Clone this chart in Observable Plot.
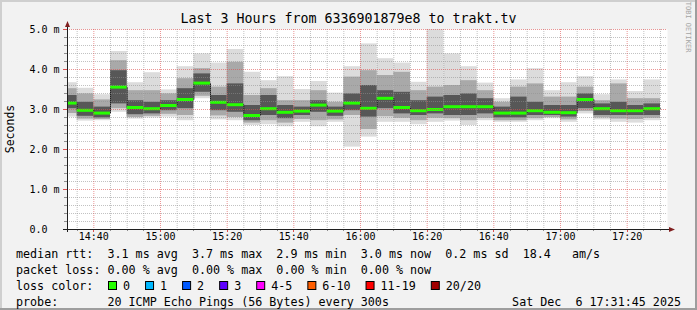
<!DOCTYPE html>
<html><head><meta charset="utf-8">
<script src="https://cdn.jsdelivr.net/npm/d3@7"></script>
<script src="https://cdn.jsdelivr.net/npm/@observablehq/plot@0.6"></script>
<style>
html,body{margin:0;padding:0;background:#f2f2f2;}
svg text{font-family:"DejaVu Sans Mono",monospace;}
</style></head><body><div id="chart"></div>
<script>
// ---- data ----
const titleText = "Last 3 Hours from 6336901879e8 to trakt.tv";
const yLabelText = "Seconds";
const firstBarStart = "2025-12-06T14:30:00Z";
const stepMinutes = 5;
const viewStart = "2025-12-06T14:32:06Z";
const viewEnd = "2025-12-06T17:32:06Z";

const smokeMax = [3.67,3.53,3.37,4.45,3.67,3.92,3.49,4.07,4.39,4.16,4.50,3.93,3.72,3.82,3.50,3.70,3.41,4.07,4.64,4.27,4.16,3.68,5.06,4.39,4.07,3.66,3.27,3.74,4.02,3.47,3.67,3.82,3.37,3.74,3.45,3.74];
const smokeHiMid = [3.52,3.39,3.24,4.22,3.47,3.47,3.39,3.77,4.02,3.56,4.18,3.35,3.52,3.22,3.22,3.47,3.18,3.81,3.97,3.85,3.93,3.47,3.56,3.60,3.72,3.47,3.18,3.56,3.64,3.31,3.31,3.56,3.22,3.64,3.27,3.27];
const smokeHiDark = [3.35,3.18,3.06,3.97,3.22,3.18,3.22,3.52,3.89,3.35,3.64,3.10,3.35,3.10,3.06,3.22,3.06,3.39,3.60,3.47,3.43,3.22,3.31,3.35,3.39,3.27,3.06,3.31,3.18,3.10,3.10,3.39,3.14,3.18,3.10,3.14];
const medianRtt = [3.16,2.98,2.91,3.56,3.05,3.02,3.10,3.25,3.66,3.18,3.12,2.85,3.02,2.93,2.96,3.11,2.96,3.16,3.03,3.28,3.05,2.97,3.00,3.07,3.07,3.07,2.91,2.91,2.97,2.93,2.92,3.25,3.02,2.97,2.97,3.02];
const smokeLoDark = [3.02,2.83,2.79,3.14,2.87,2.89,2.97,3.02,3.43,2.97,2.93,2.72,2.85,2.77,2.85,2.93,2.83,2.97,2.81,3.02,2.89,2.85,2.89,2.85,2.85,2.89,2.79,2.79,2.85,2.85,2.81,3.02,2.85,2.85,2.85,2.85];
const smokeLoMid = [2.90,2.76,2.75,3.02,2.80,2.83,2.88,2.85,3.33,2.84,2.80,2.66,2.72,2.66,2.75,2.72,2.74,2.85,2.50,2.82,2.78,2.72,2.78,2.77,2.72,2.78,2.72,2.72,2.77,2.80,2.74,2.95,2.79,2.76,2.75,2.78];
const smokeMin = [2.81,2.71,2.72,2.93,2.76,2.79,2.81,2.72,3.27,2.74,2.72,2.60,2.62,2.57,2.68,2.57,2.68,2.06,2.31,2.68,2.68,2.62,2.68,2.71,2.60,2.72,2.68,2.68,2.72,2.77,2.68,2.89,2.74,2.68,2.66,2.72];

const yTickValues = [0,1,2,3,4,5];
const yTickLabels = ["0.0","1.0 m","2.0 m","3.0 m","4.0 m","5.0 m"];
const medianLine = "median rtt:  3.1 ms avg  3.7 ms max  2.9 ms min  3.0 ms now  0.2 ms sd  18.4   am/s";
const lossLine = "packet loss: 0.00 % avg  0.00 % max  0.00 % min  0.00 % now";
const lossTitle = "loss color:";
const lossLabels = ["0","1","2","3","4-5","6-10","11-19","20/20"];
const lossColors = ["#26ff00","#00b8ff","#0059ff","#5e00ff","#ff00ff","#ff5e00","#ff0000","#a10000"];
const probeLine = "probe:       20 ICMP Echo Pings (56 Bytes) every 300s";
const dateText = "Sat Dec  6 17:31:45 2025";
const creditText = "RRDTOOL / TOBI OETIKER";

// ---- build table ----
const t0 = new Date(firstBarStart).getTime();
const stepMs = stepMinutes * 60000;
const bars = medianRtt.map((m, i) => ({
  x1: new Date(t0 + i * stepMs), x2: new Date(t0 + (i + 1) * stepMs),
  max: smokeMax[i], hiMid: smokeHiMid[i], hiDark: smokeHiDark[i], median: m,
  loDark: smokeLoDark[i], loMid: smokeLoMid[i], min: smokeMin[i]
}));
const stepPts = bars.map(b => ({x: b.x1, y: b.median}));
stepPts.push({x: bars[bars.length - 1].x2, y: bars[bars.length - 1].median});

const start = new Date(viewStart), end = new Date(viewEnd);
const majorX = d3.utcMinute.every(20).range(start, end);
const minorX = d3.utcMinute.every(5).range(start, end).filter(d => d.getUTCMinutes() % 20 !== 0);
const majorY = yTickValues.slice(1);
const minorY = d3.range(1, 26).map(k => k / 5).filter(v => Math.abs(v - Math.round(v)) > 1e-6);

const W = 697, H = 310, ML = 67, MR = 30, MT = 29, MB = 81;
const gridMinor = {stroke: "#8f8f8f", strokeOpacity: 0.55, strokeDasharray: "1,1"};
const gridMajor = {stroke: "#de4f4f", strokeOpacity: 0.6, strokeDasharray: "1,1"};

const plot = Plot.plot({
  width: W, height: H,
  marginLeft: ML, marginRight: MR, marginTop: MT, marginBottom: MB,
  style: {background: "#f2f2f2", fontFamily: "DejaVu Sans Mono", fontSize: "10px", color: "#000", overflow: "visible"},
  x: {type: "utc", domain: [start, end], axis: null},
  y: {domain: [0, 5], axis: null},
  marks: [
    Plot.frame({fill: "white", stroke: null}),
    Plot.rect(bars, {x1: "x1", x2: "x2", y1: "min", y2: "max", fill: "#dcdcdc", clip: true}),
    Plot.rect(bars, {x1: "x1", x2: "x2", y1: "loMid", y2: "hiMid", fill: "#a9a9a9", clip: true}),
    Plot.rect(bars, {x1: "x1", x2: "x2", y1: "loDark", y2: "hiDark", fill: "#575757", clip: true}),
    Plot.line(stepPts, {x: "x", y: "y", curve: "step-after", stroke: "#202020", strokeWidth: 1, clip: true}),
    Plot.ruleY(bars, {y: "median", x1: "x1", x2: "x2", stroke: lossColors[0], strokeWidth: 3, clip: true}),
    Plot.ruleX(minorX, {...gridMinor}),
    Plot.ruleY(minorY, {...gridMinor}),
    Plot.ruleX(majorX, {...gridMajor}),
    Plot.ruleY(majorY, {...gridMajor}),
    Plot.axisX({ticks: majorX, tickFormat: d3.utcFormat("%H:%M"), tickSize: 0, tickPadding: 3, fontSize: 10, label: null}),
    Plot.axisY({ticks: yTickValues, tickFormat: v => yTickLabels[yTickValues.indexOf(v)], tickSize: 0, tickPadding: 0, textAnchor: "start", dx: -38, fontSize: 10, label: null})
  ]
});
document.getElementById("chart").appendChild(plot);

// ---- decorations using the plot's scales ----
const svg = d3.select(plot);
const xs = plot.scale("x"), ys = plot.scale("y");
const X0 = ML, X1 = W - MR, Y0 = H - MB, Y1 = MT;
const g = svg.append("g");

// 3D frame
g.append("path").attr("d", `M0,0 H${W} V2 H2 V${H} H0 Z`).attr("fill", "#cfcfcf");
g.append("path").attr("d", `M${W},0 V${H} H0 V${H - 2} H${W - 2} V0 Z`).attr("fill", "#9e9e9e");

// small ticks outside the frame
minorY.forEach(v => { const y = Math.round(ys.apply(v)) + 0.5; g.append("line").attr("x1", X0 - 3).attr("x2", X0).attr("y1", y).attr("y2", y).attr("stroke", "#8f8f8f"); });
majorY.forEach(v => { const y = Math.round(ys.apply(v)) + 0.5; g.append("line").attr("x1", X0 - 4).attr("x2", X0).attr("y1", y).attr("y2", y).attr("stroke", "#de4f4f"); });
minorX.forEach(d => { const x = Math.round(xs.apply(d)) + 0.5; g.append("line").attr("x1", x).attr("x2", x).attr("y1", Y0).attr("y2", Y0 + 2).attr("stroke", "#8f8f8f"); });
majorX.forEach(d => { const x = Math.round(xs.apply(d)) + 0.5; g.append("line").attr("x1", x).attr("x2", x).attr("y1", Y0).attr("y2", Y0 + 3).attr("stroke", "#de4f4f"); });

// axes with arrows
g.append("line").attr("x1", X0 - 4).attr("x2", X1 + 4).attr("y1", Y0 + 0.5).attr("y2", Y0 + 0.5).attr("stroke", "#1f1f1f");
g.append("line").attr("x1", X0 + 0.5).attr("x2", X0 + 0.5).attr("y1", Y0 + 3).attr("y2", Y1 - 4).attr("stroke", "#1f1f1f");
g.append("path").attr("d", `M${X1 + 2},${Y0 - 2} L${X1 + 8},${Y0 + 0.5} L${X1 + 2},${Y0 + 3} Z`).attr("fill", "#801f1f");
g.append("path").attr("d", `M${X0 - 2},${Y1 - 2} L${X0 + 0.5},${Y1 - 8} L${X0 + 3},${Y1 - 2} Z`).attr("fill", "#801f1f");

// title and y label
g.append("text").attr("x", W / 2).attr("y", 23).attr("text-anchor", "middle").attr("font-size", 13.3).attr("fill", "#000").text(titleText);
g.append("g").attr("transform", `translate(14,${(Y0 + Y1) / 2}) rotate(-90)`)
  .append("text").attr("text-anchor", "middle").attr("font-size", 11.5).attr("fill", "#000").text(yLabelText);

// credit (vertical, reading downward)
g.append("text").attr("x", 687.5).attr("y", 6).attr("font-size", 7).attr("fill", "#a4a4a4")
  .style("writing-mode", "vertical-rl").text(creditText);

// legend lines
const FS = 11.7, CW = 7.05, LX = 16;
function line(txt, x, y, anchor) {
  g.append("text").attr("x", x).attr("y", y).attr("font-size", FS).attr("fill", "#000")
    .attr("text-anchor", anchor || "start").attr("xml:space", "preserve").style("white-space", "pre").text(txt);
}
line(medianLine, LX, 258);
line(lossLine, LX, 274);
line(lossTitle, LX, 290);
let sx = 108;
lossLabels.forEach((lab, i) => {
  g.append("rect").attr("x", sx + 0.5).attr("y", 281.5).attr("width", 8).attr("height", 8).attr("fill", lossColors[i]).attr("stroke", "#000").attr("stroke-width", 1);
  line(lab, sx + 15, 290);
  sx += 15 + lab.length * CW + 15;
});
line(probeLine, LX, 306);
line(dateText, 681, 306, "end");
</script></body></html>
